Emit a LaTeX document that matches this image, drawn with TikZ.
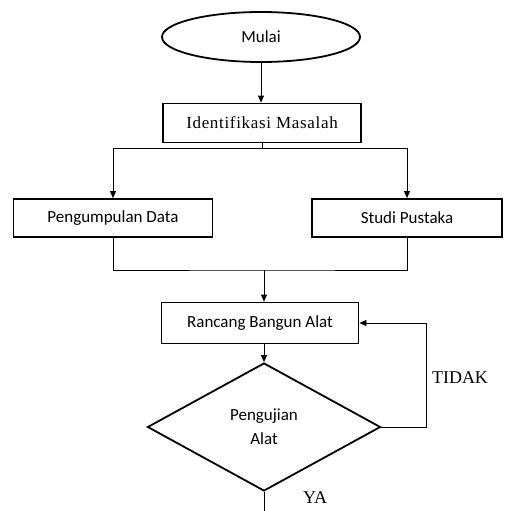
\documentclass[tikz,border=0pt]{standalone}
\usepackage{fontspec}
\setmainfont{Liberation Serif}
\newfontfamily\boxfont{Carlito}
\usetikzlibrary{arrows.meta,shapes.geometric}

\begin{document}
\begin{tikzpicture}[x=1pt,y=-1pt,
  box/.style={draw,line width=1.8pt,inner sep=0pt,font=\boxfont\fontsize{17}{20}\selectfont},
  link/.style={line width=0.8pt},
  arr/.style={link,-{Triangle[length=7pt,width=6pt]}},
  label/.style={inner sep=0pt,font=\fontsize{18}{21}\selectfont}]
\useasboundingbox (0,0) rectangle (507,511);
\fill[white] (0,0) rectangle (507,511);
% ---------- nodes ----------
\node[box,ellipse,minimum width=198,minimum height=50] (mulai) at (261,37) {Mulai};
\node[box,minimum width=198,minimum height=39,
  font=\fontsize{17}{20}\selectfont\addfontfeature{LetterSpace=4}] (ident) at (262,123) {Identifikasi Masalah};
\node[box,minimum width=199,minimum height=38] (data) at (113,218) {Pengumpulan Data};
\node[box,minimum width=190,minimum height=38] (pustaka) at (407,218) {Studi Pustaka};
\node[box,minimum width=197,minimum height=41] (rancang) at (260,323) {Rancang Bangun Alat};
\node[box,diamond,aspect=1.82,minimum width=233,minimum height=128,align=center] (uji) at (264,427) {Pengujian\\[4pt]Alat};
\node[label] (tidak) at (460,378) {TIDAK};
\node[label,anchor=south] (ya) at (315,504) {YA};
% ---------- connectors ----------
\coordinate (split) at (264,148);
\coordinate (merge) at (264,270);
\coordinate (loop) at (426,427);
\coordinate (out) at (264,511);
\draw[arr] (mulai.south) -- (mulai.south |- ident.north);
\draw[link] (ident.south) -- (ident.south |- split);
\draw[arr] (split -| data) -- (data.north);
\draw[arr] (split -| pustaka) -- (pustaka.north);
\draw[link] (split -| data) -- (split -| pustaka);
\draw[link] (data.south) |- (merge) -| (pustaka.south);
\draw[arr] (merge) -- (merge |- rancang.north);
\draw[arr] (rancang.south -| uji.north) -- (uji.north);
\draw[arr] (uji.east) -- (loop) |- (rancang.east);
\draw[link] (uji.south) -- (out);
\end{tikzpicture}
\end{document}
